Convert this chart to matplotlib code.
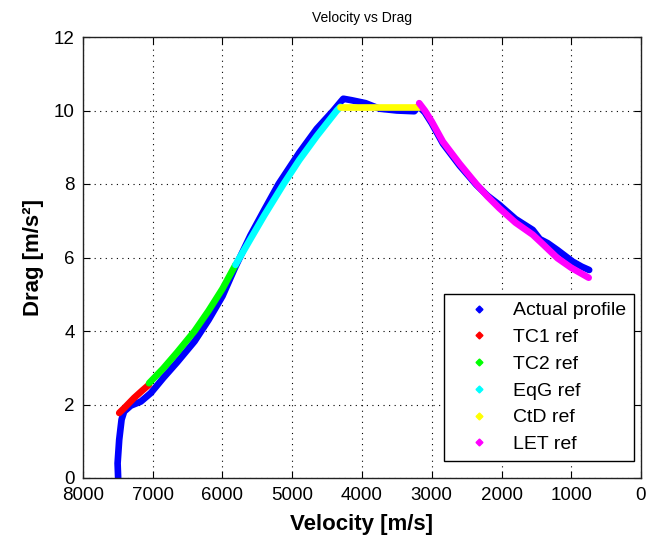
import matplotlib
matplotlib.use("Agg")
import matplotlib.pyplot as plt
from matplotlib.lines import Line2D

plt.rcParams['font.family'] = ['Liberation Sans', 'DejaVu Sans']

# Actual profile (blue)
actual_v = [7496, 7504, 7481, 7447, 7410, 7314, 7171, 7029, 6850, 6650, 6400, 6200,
            6000, 5814, 5600, 5400, 5196, 4900, 4650, 4410, 4300, 4268, 4150, 3950,
            3750, 3500, 3250, 3190, 3100, 3000, 2840, 2600, 2362, 2200, 2029, 1800,
            1552, 1450, 1338, 1196, 981, 850, 743]
actual_d = [0.0, 0.4, 1.04, 1.59, 1.81, 1.97, 2.08, 2.31, 2.72, 3.15, 3.72, 4.3,
            4.95, 5.75, 6.6, 7.3, 8.0, 8.85, 9.5, 10.0, 10.25, 10.32, 10.28, 10.2,
            10.05, 10.0, 9.98, 10.12, 9.95, 9.65, 9.1, 8.5, 7.98, 7.68, 7.43, 7.05,
            6.75, 6.5, 6.39, 6.2, 5.89, 5.75, 5.66]

# TC1 ref (red)
tc1_v = [7481, 7400, 7267, 7150, 7053]
tc1_d = [1.77, 1.92, 2.18, 2.38, 2.54]

# TC2 ref (green)
tc2_v = [7053, 6850, 6650, 6400, 6200, 6000, 5814]
tc2_d = [2.58, 2.98, 3.42, 4.0, 4.55, 5.15, 5.8]

# EqG ref (cyan)
eqg_v = [5814, 5600, 5400, 5124, 4900, 4650, 4360, 4310]
eqg_d = [5.8, 6.5, 7.15, 8.0, 8.65, 9.3, 10.0, 10.1]

# CtD ref (yellow)
ctd_v = [4310, 3180]
ctd_d = [10.1, 10.1]

# LET ref (magenta)
let_v = [3180, 3100, 3000, 2840, 2600, 2362, 2200, 2030, 1800, 1552, 1400, 1196, 1000, 750]
let_d = [10.2, 10.0, 9.7, 9.15, 8.55, 8.0, 7.66, 7.34, 6.95, 6.62, 6.35, 5.98, 5.72, 5.45]

series = [
    ("Actual profile", actual_v, actual_d, "#0000ff"),
    ("TC1 ref", tc1_v, tc1_d, "#ff0000"),
    ("TC2 ref", tc2_v, tc2_d, "#00ff00"),
    ("EqG ref", eqg_v, eqg_d, "#00ffff"),
    ("CtD ref", ctd_v, ctd_d, "#ffff00"),
    ("LET ref", let_v, let_d, "#ff00ff"),
]

fig = plt.figure(figsize=(6.49, 5.38), dpi=100)
ax = fig.add_axes([83/649, 1 - 478/538, 558/649, 441/538])

for name, v, d, c in series:
    ax.plot(v, d, color=c, lw=4.8, solid_capstyle='round', solid_joinstyle='round')

ax.set_xlim(8000, 0)
ax.set_ylim(0, 12)
ax.set_xticks(range(0, 8001, 1000))
ax.set_yticks(range(0, 13, 2))
ax.grid(True, color='black', linestyle=(0, (1, 4)), linewidth=0.8)
ax.tick_params(direction='in', length=5, top=True, right=True, labelsize=13.5,
               colors='black')
ax.tick_params(axis='x', pad=6.5)
ax.tick_params(axis='y', pad=6)
for s in ax.spines.values():
    s.set_color('#222222')
    s.set_linewidth(1.0)

ax.set_title("Velocity vs Drag", fontsize=10, pad=11)
ax.set_xlabel("Velocity [m/s]", fontsize=16, fontweight='bold', labelpad=7)
ax.set_ylabel("Drag [m/s²]", fontsize=16, fontweight='bold', labelpad=7)

handles = [Line2D([], [], linestyle='none', marker='D', markersize=3.5,
                  color=c, markeredgecolor=c) for _, _, _, c in series]
labels = [n for n, _, _, _ in series]
leg = ax.legend(handles, labels, loc='lower right', bbox_to_anchor=(0.9875, 0.0385),
                fontsize=14, frameon=True, fancybox=False, edgecolor='black',
                framealpha=1, borderpad=0.4, labelspacing=0.47, handlelength=2.8,
                handletextpad=0.35, borderaxespad=0)
leg.get_frame().set_linewidth(1.0)

fig.savefig("out.png", dpi=100)
